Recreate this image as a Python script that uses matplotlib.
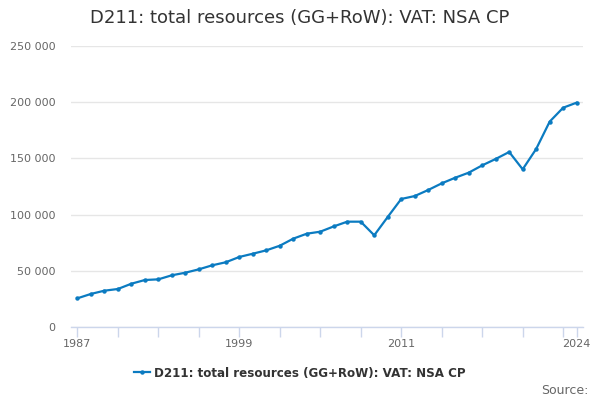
import matplotlib
matplotlib.use("Agg")
import matplotlib.pyplot as plt
from matplotlib.ticker import FuncFormatter, FixedLocator
from matplotlib.lines import Line2D

years = list(range(1987, 2025))
values = [25500, 29400, 32300, 33800, 38500, 41800, 42400, 46000, 48300, 51300,
          54900, 57600, 62300, 65200, 68200, 72300, 78600, 83000, 84800, 89500,
          93700, 93700, 81600, 97900, 113900, 116500, 121900, 127800, 132800, 137300,
          143800, 149500, 155700, 140300, 158400, 182700, 195100, 199600]
series_name = "D211: total resources (GG+RoW): VAT: NSA CP"
title = "D211: total resources (GG+RoW): VAT: NSA CP"
x_tick_positions = list(range(1987, 2024, 3)) + [2024]
x_tick_labels = {1987: "1987", 1999: "1999", 2011: "2011", 2024: "2024"}
y_ticks = [0, 50000, 100000, 150000, 200000, 250000]

line_color = "#0b7bc1"
fig = plt.figure(figsize=(6, 4), dpi=100)
ax = fig.add_axes([71/600, 1-327/400, (583-71)/600, (327-46)/400])

ax.plot(years, values, color=line_color, linewidth=1.6, marker="o", markersize=3.2,
        markeredgewidth=0, zorder=3)

ax.set_xlim(1986.53, 2024.47)
ax.set_ylim(0, 250000)
ax.set_yticks(y_ticks)
ax.yaxis.set_major_formatter(FuncFormatter(lambda v, p: f"{int(v):,}".replace(",", " ")))
ax.xaxis.set_major_locator(FixedLocator(x_tick_positions))
ax.xaxis.set_major_formatter(FuncFormatter(lambda v, p: x_tick_labels.get(int(round(v)), "")))

ax.grid(axis="y", color="#e6e6e6", linewidth=1)
ax.set_axisbelow(True)
for s in ["top", "right", "left"]:
    ax.spines[s].set_visible(False)
ax.spines["bottom"].set_color("#ccd6eb")
ax.spines["bottom"].set_linewidth(1)
ax.tick_params(axis="y", length=0, pad=11, labelsize=8, labelcolor="#666666")
ax.tick_params(axis="x", length=7, width=1, color="#ccd6eb", pad=1.5, labelsize=8,
               labelcolor="#666666")

fig.text(0.5, 1-18/400, title, ha="center", va="center", fontsize=13, color="#333333")

handle = Line2D([], [], color=line_color, linewidth=1.6, marker="o", markersize=3.2,
                markeredgewidth=0)
leg = fig.legend([handle], [series_name], loc="center", bbox_to_anchor=(0.5, 1-373/400),
                 frameon=False, handlelength=1.3, handletextpad=0.4,
                 prop={"size": 8.6, "weight": "bold"})
for t in leg.get_texts():
    t.set_color("#333333")

fig.text(589/600, 1-391/400, "Source:", ha="right", va="center", fontsize=9, color="#666666")

fig.savefig("out.png", dpi=100)
